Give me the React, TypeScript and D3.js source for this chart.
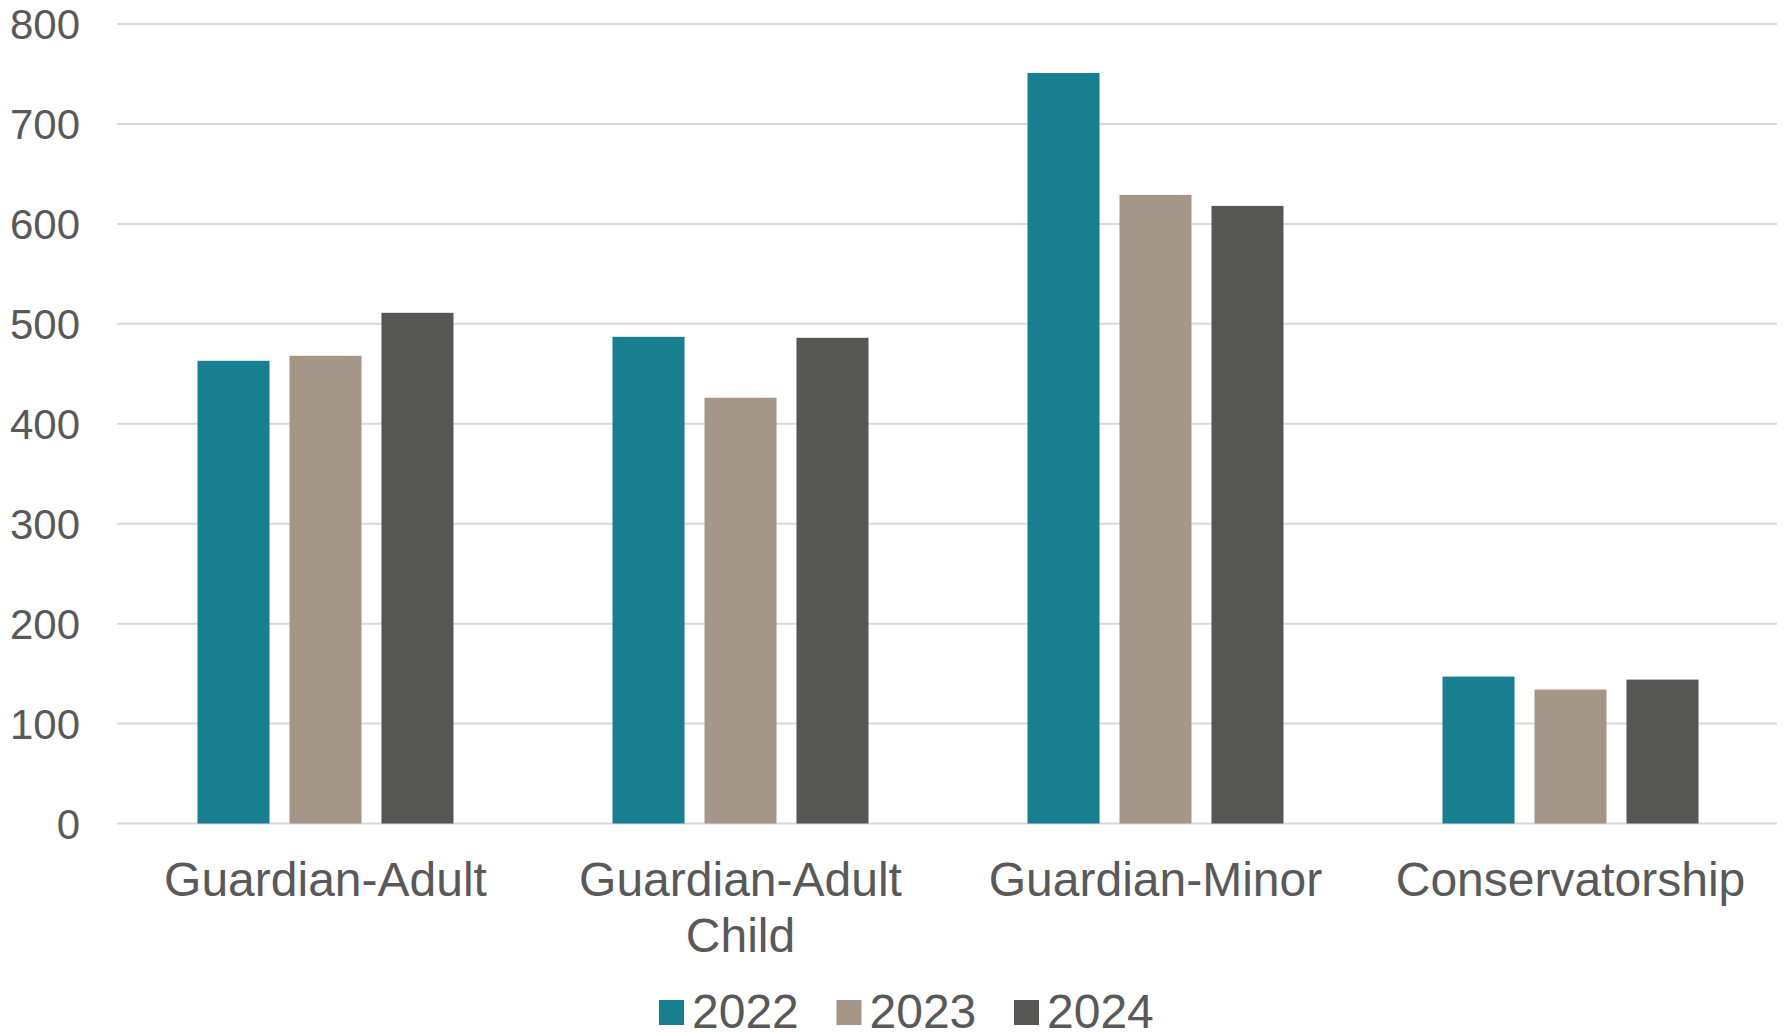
import { scaleBand, scaleLinear } from "d3";

const categories = ["Guardian-Adult", "Guardian-Adult\nChild", "Guardian-Minor", "Conservatorship"];
const seriesNames = ["2022", "2023", "2024"];
const values2022 = [463, 487, 751, 147];
const values2023 = [468, 426, 629, 134];
const values2024 = [511, 486, 618, 144];
const yTicks = [0, 100, 200, 300, 400, 500, 600, 700, 800];
const colors = ["#187f91", "#a59788", "#565654"];

const seriesValues = [values2022, values2023, values2024];

export default function App() {
  const width = 1787;
  const height = 1032;
  const plot = { left: 117, right: 1777, top: 24, bottom: 823.5 };
  const font = "'Liberation Sans', Arial, sans-serif";
  const textColor = "#595959";

  const x0 = scaleBand<string>()
    .domain(categories)
    .range([plot.left + 1, plot.right + 1])
    .padding(0);

  const groupWidth = 256;
  const groupOffset = (x0.bandwidth() - groupWidth) / 2;

  const x1 = scaleBand<string>()
    .domain(seriesNames)
    .range([0, groupWidth])
    .paddingInner(0.217)
    .paddingOuter(0);

  const y = scaleLinear().domain([0, 800]).range([plot.bottom, plot.top]);

  // legend layout
  const legendStart = 659;
  const legendStep = 177.5;

  return (
    <svg
      width={width}
      height={height}
      viewBox={`0 0 ${width} ${height}`}
      style={{ position: "absolute", left: 0, top: 0, display: "block", background: "#fff" }}
      fontFamily={font}
    >
      <g>
        {yTicks.map((tick) => (
          <g key={`grid-${tick}`}>
            <line
              x1={plot.left}
              x2={plot.right}
              y1={y(tick)}
              y2={y(tick)}
              stroke="#d9d9d9"
              strokeWidth={2}
            />
            <text
              x={80}
              y={y(tick)}
              dy="0.36em"
              textAnchor="end"
              fontSize={42}
              fill={textColor}
            >
              {tick}
            </text>
          </g>
        ))}
      </g>

      <g>
        {categories.map((cat, ci) => {
          const gx = (x0(cat) ?? 0) + groupOffset;
          return (
            <g key={cat}>
              {seriesNames.map((name, si) => {
                const v = seriesValues[si][ci];
                return (
                  <rect
                    key={name}
                    x={gx + (x1(name) ?? 0)}
                    y={y(v)}
                    width={x1.bandwidth()}
                    height={y(0) - y(v)}
                    fill={colors[si]}
                  />
                );
              })}
            </g>
          );
        })}
      </g>

      <g>
        {categories.map((cat) => {
          const cx = (x0(cat) ?? 0) + x0.bandwidth() / 2;
          const lines = cat.split("\n");
          return (
            <text
              key={`label-${cat}`}
              x={cx}
              y={896}
              textAnchor="middle"
              fontSize={48}
              fill={textColor}
            >
              {lines.map((line, i) => (
                <tspan key={line} x={cx} dy={i === 0 ? 0 : 55.7}>
                  {line}
                </tspan>
              ))}
            </text>
          );
        })}
      </g>

      <g>
        {seriesNames.map((name, si) => {
          const lx = legendStart + si * legendStep;
          return (
            <g key={`legend-${name}`}>
              <rect x={lx} y={1000} width={25} height={25} fill={colors[si]} />
              <text x={lx + 33} y={1027.5} fontSize={48} fill={textColor}>
                {name}
              </text>
            </g>
          );
        })}
      </g>
    </svg>
  );
}
